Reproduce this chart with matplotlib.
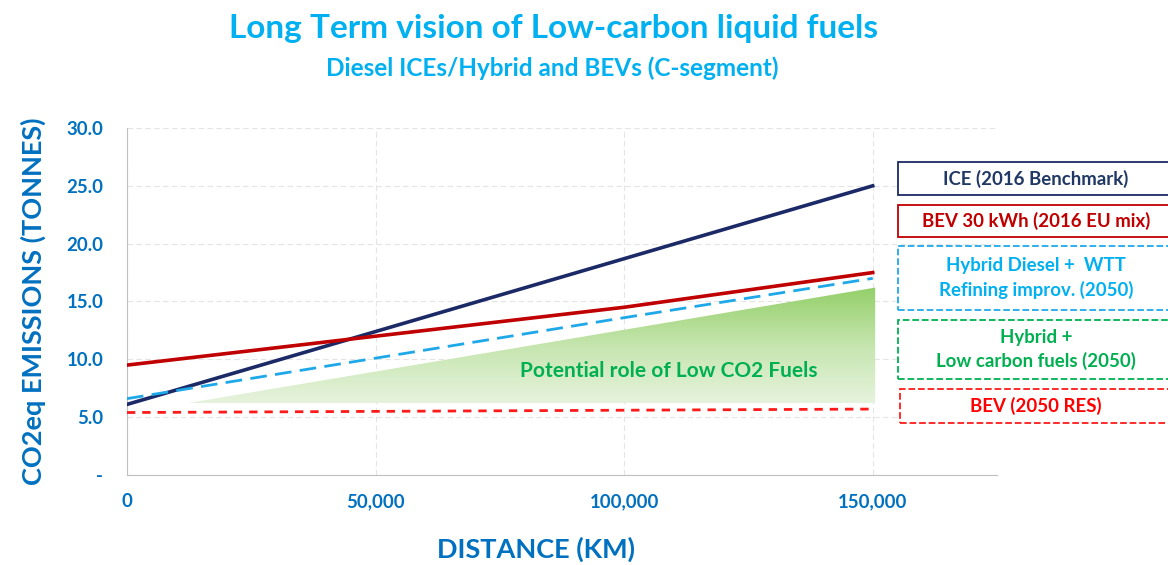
import numpy as np
import matplotlib
matplotlib.use("Agg")
import matplotlib.pyplot as plt
from matplotlib.patches import Rectangle, Polygon
from matplotlib.ticker import FuncFormatter
from matplotlib.colors import LinearSegmentedColormap

plt.rcParams["font.family"] = ["Lato", "DejaVu Sans"]
plt.rcParams["font.weight"] = "bold"

# data
dist = [0, 50000, 100000, 150000]
ice_2016 = [6.1, 12.4, 18.7, 25.0]
bev_eu_mix = [9.5, 12.0, 14.5, 17.5]
hybrid_wtt = [6.6, 10.1, 13.6, 17.0]
bev_2050_res = [5.4, 5.5, 5.6, 5.7]

# low CO2 fuel wedge (distance, tonnes)
wedge_x = [12000, 150500, 150500]
wedge_y = [6.2, 16.2, 6.2]

legend_labels = [
    "ICE (2016 Benchmark)",
    "BEV 30 kWh (2016 EU mix)",
    "Hybrid Diesel +  WTT\nRefining improv. (2050)",
    "Hybrid +\nLow carbon fuels (2050)",
    "BEV (2050 RES)",
]

blue = "#0070C0"
cyan = "#00B0F0"
navy = "#1B2A66"
darkred = "#C00000"
green = "#00B050"

fig = plt.figure(figsize=(11.68, 5.65), dpi=100)
ax = fig.add_axes([0.1087, 0.1593, 0.7449, 0.6142])

# gradient wedge
poly = Polygon(list(zip(wedge_x, wedge_y)), closed=True, facecolor="none", edgecolor="none")
ax.add_patch(poly)
cmap = LinearSegmentedColormap.from_list("g", ["#E6F3DD", "#C5E5AE", "#94CF69"])
grad = np.linspace(0, 1, 256).reshape(-1, 1)
im = ax.imshow(grad, cmap=cmap, origin="lower", aspect="auto",
               extent=[min(wedge_x), max(wedge_x), min(wedge_y), max(wedge_y)], zorder=1)
im.set_clip_path(poly)

ax.plot(dist, ice_2016, color=navy, lw=2.6, zorder=3)
ax.plot(dist, bev_eu_mix, color=darkred, lw=2.6, zorder=3)
ax.plot(dist, hybrid_wtt, color="#1FA8E8", lw=2, dashes=(6, 3), zorder=3)
ax.plot(dist, bev_2050_res, color="#FF1A1A", lw=2, dashes=(3, 2.5), zorder=3)

ax.text(109000, 9.0, "Potential role of Low CO2 Fuels", color=green, fontsize=15,
        ha="center", va="center", zorder=4)

ax.set_xlim(0, 175000)
ax.set_ylim(0, 30)
ax.set_xticks([0, 50000, 100000, 150000])
ax.set_yticks(np.arange(0, 31, 5))
ax.xaxis.set_major_formatter(FuncFormatter(lambda v, p: f"{v:,.0f}"))
ax.yaxis.set_major_formatter(FuncFormatter(lambda v, p: "-" if v == 0 else f"{v:.1f}"))
ax.tick_params(length=0, colors=blue, labelsize=13.4)
ax.tick_params(axis="x", pad=13)
ax.tick_params(axis="y", pad=17)
ax.grid(True, color="#E4E4E4", lw=0.8, ls=(0, (5, 3)))
ax.set_axisbelow(True)
for s in ["top", "right"]:
    ax.spines[s].set_visible(False)
for s in ["left", "bottom"]:
    ax.spines[s].set_color("#BFBFBF")

ax.set_xlabel("DISTANCE (KM)", color=blue, fontsize=19.5, fontweight="bold",
              va="center")
ax.xaxis.set_label_coords(0.47, -0.215)
ax.set_ylabel("CO2eq EMISSIONS (TONNES)", color=blue, fontsize=19.5, fontweight="bold",
              labelpad=15)

fig.text(0.474, 0.95, "Long Term vision of Low-carbon liquid fuels", color=cyan,
         fontsize=24, ha="center", va="center")
fig.text(0.473, 0.88, "Diesel ICEs/Hybrid and BEVs (C-segment)", color=cyan,
         fontsize=17.5, ha="center", va="center")

# legend boxes on the right
boxes = [
    (0.7688, 0.6549, 0.0584, navy, "-", "#1F3864"),
    (0.7688, 0.5805, 0.0566, darkred, "-", darkred),
    (0.7688, 0.4513, 0.1133, "#1FA8E8", "--", cyan),
    (0.7688, 0.3292, 0.1044, green, "--", green),
    (0.7705, 0.2513, 0.0602, "#FF1A1A", "--", "#FF0000"),
]
for (x0, y0, h, ec, ls, tc), lab in zip(boxes, legend_labels):
    fig.patches.append(Rectangle((x0, y0), 0.25, h, transform=fig.transFigure,
                                 facecolor="white", edgecolor=ec, lw=1.3, ls=ls))
    fig.text(0.887, y0 + h / 2, lab, color=tc, fontsize=13.4, ha="center",
             va="center", linespacing=1.4)

fig.savefig("out.png", dpi=100)
